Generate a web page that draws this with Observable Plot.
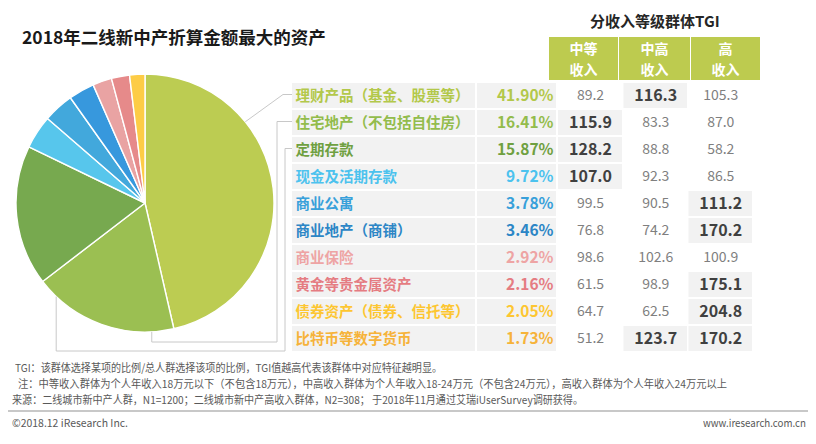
<!DOCTYPE html>
<html><head><meta charset="utf-8">
<script src="https://cdn.jsdelivr.net/npm/d3@7"></script>
<script src="https://cdn.jsdelivr.net/npm/@observablehq/plot@0.6"></script>
<style>
body{margin:0;background:#fff;font-family:"Noto Sans CJK SC","Noto Sans",sans-serif;}
#wrap{position:relative;width:816px;height:444px;overflow:hidden;background:#fff;}
#wrap svg{position:absolute;left:0;top:0;}
.abs{position:absolute;white-space:nowrap;}
.fit{transform-origin:0 50%;}
.hbox{position:absolute;top:37px;height:43px;background:#BDCB4F;}
.hline{position:absolute;left:0;right:0;color:#fff;font-weight:bold;font-size:14px;line-height:16px;text-align:center;}
.note{font-size:11px;color:#595959;line-height:14px;}
</style></head><body><div id="wrap"></div>
<script>
// ---------- data ----------
const categories = ["理财产品（基金、股票等）","住宅地产（不包括自住房）","定期存款","现金及活期存款","商业公寓","商业地产（商铺）","商业保险","黄金等贵金属资产","债券资产（债券、信托等）","比特币等数字货币"];
const shares = [41.90,16.41,15.87,9.72,3.78,3.46,2.92,2.16,2.05,1.73];
const groups = ["中等收入","中高收入","高收入"];
const groupLabels = [["中等","收入"],["中高","收入"],["高","收入"]];
const tgiMiddle = [89.2,115.9,128.2,107.0,99.5,76.8,98.6,61.5,64.7,51.2];
const tgiUpperMiddle = [116.3,83.3,88.8,92.3,90.5,74.2,102.6,98.9,62.5,123.7];
const tgiHigh = [105.3,87.0,58.2,86.5,111.2,170.2,100.9,175.1,204.8,170.2];
// pie as drawn in the picture (9 slices)
const pieValues = [41.90,16.41,15.87,3.78,3.46,2.92,2.16,2.05,1.73];

// ---------- styles / layout ----------
const labelColors = ["#B3C84A","#93BC4C","#6FA040","#4CC2EE","#38A0DA","#2C86C6","#EEA4A4","#E57C82","#FDC631","#F6B33A"];
const pieColors = ["#BCCC52","#9BBF52","#77A94F","#57C6EC","#42A8DC","#3798DD","#E9A3A3","#E68A8A","#FDCC46"];
const COL = {name:[292,475], share:[477,556], "中等收入":[558,622], "中高收入":[623.5,687], "高收入":[688.5,752]};
const PIE = {cx:145, cy:203, r:129};
const leaders = [
  {row:0, angle:51, route:(p,y)=>[p,[283,y],[292,y]]},
  {row:1, angle:177, route:(p,y)=>[p,[p[0],342],[277,342],[277,y],[292,y]]},
  {row:2, angle:223.5, route:(p,y)=>[p,[p[0],351],[285,351],[285,y],[292,y]]}
];

const rows = categories.map((name,i)=>({name, share:shares[i], color:labelColors[i]}));
const tgiSeries = [tgiMiddle, tgiUpperMiddle, tgiHigh];
const tgiRows = categories.flatMap((name,i)=>groups.map((group,j)=>({name, group, value:tgiSeries[j][i]})));
const isHi = d => d.value > 106;
const mid = g => (COL[g][0]+COL[g][1])/2;

function pieMark(index, scales) {
  const g = d3.create("svg:g");
  const arcs = d3.pie().sort(null)(pieValues);
  const arc = d3.arc().innerRadius(0).outerRadius(PIE.r);
  g.append("g").attr("transform",`translate(${PIE.cx},${PIE.cy})`)
    .selectAll("path").data(arcs).join("path")
    .attr("d", arc).attr("fill",(d,i)=>pieColors[i])
    .attr("stroke","#fff").attr("stroke-width",1.4).attr("stroke-linejoin","round");
  const y = scales.y, bw = y.bandwidth ? y.bandwidth() : 0;
  for (const L of leaders) {
    const a = L.angle*Math.PI/180;
    const p = [PIE.cx + PIE.r*Math.sin(a), PIE.cy - PIE.r*Math.cos(a)];
    const ry = y(categories[L.row]) + bw/2 - 1;
    g.append("path").attr("d", d3.line()(L.route(p, ry)))
      .attr("fill","none").attr("stroke","#C8C8C8").attr("stroke-width",1);
  }
  return g.node();
}

const plot = Plot.plot({
  width:816, height:444, margin:0,
  style:{fontFamily:'"Noto Sans CJK SC","Noto Sans",sans-serif', background:"transparent", overflow:"visible"},
  x:{domain:[0,816], range:[0,816], axis:null},
  y:{type:"band", domain:categories, range:[82,351], paddingInner:0.08, paddingOuter:0, axis:null},
  color:{type:"identity"},
  marks:[
    Plot.barX(rows, {x1:COL.name[0], x2:COL.name[1], y:"name", fill:"#F2F2F2"}),
    Plot.barX(rows, {x1:COL.share[0], x2:COL.share[1], y:"name", fill:"#F2F2F2"}),
    Plot.barX(tgiRows.filter(isHi), {x1:d=>COL[d.group][0], x2:d=>COL[d.group][1], y:"name", fill:"#F2F2F2"}),
    pieMark,
    Plot.text(rows, {x:295, y:"name", text:"name", textAnchor:"start", fill:"color", fontSize:14.5, fontWeight:"bold"}),
    Plot.text(rows, {x:553, y:"name", text:d=>d.share.toFixed(2)+"%", textAnchor:"end", fill:"color", fontSize:15.5, fontWeight:"bold"}),
    Plot.text(tgiRows.filter(isHi), {x:d=>mid(d.group), y:"name", text:d=>d.value.toFixed(1), fill:"#404040", fontSize:16, fontWeight:"bold"}),
    Plot.text(tgiRows.filter(d=>!isHi(d)), {x:d=>mid(d.group), y:"name", text:d=>d.value.toFixed(1), fill:"#7F7F7F", fontSize:14})
  ]
});
const wrap = document.getElementById("wrap");
wrap.appendChild(plot);

function addDiv(html, css, cls="abs", parent=wrap) {
  const d = document.createElement("div");
  d.className = cls; d.innerHTML = html; d.style.cssText = css;
  parent.appendChild(d); return d;
}
addDiv("2018年二线新中产折算金额最大的资产","left:22px;top:27px;font-size:17.5px;font-weight:bold;color:#1a1a1a;line-height:20px;");
addDiv("分收入等级群体TGI","left:590px;top:11px;font-size:15px;font-weight:bold;color:#262626;line-height:20px;");
const headerBoxes = [[549,618],[619,690],[691,760]];
headerBoxes.forEach((b,i)=>{
  const box = addDiv("", `left:${b[0]}px;width:${b[1]-b[0]}px;`, "hbox");
  addDiv(groupLabels[i][0], "top:3px;", "hline", box);
  addDiv(groupLabels[i][1], "top:24px;", "hline", box);
});

const notes = [
  ["TGI：该群体选择某项的比例/总人群选择该项的比例，TGI值越高代表该群体中对应特征越明显。",15,360,427],
  ["注：中等收入群体为个人年收入18万元以下（不包含18万元），中高收入群体为个人年收入18-24万元（不包含24万元），高收入群体为个人年收入24万元以上",18,376,709],
  ["来源：二线城市新中产人群，N1=1200；二线城市新中产高收入群体，N2=308； 于2018年11月通过艾瑞iUserSurvey调研获得。",12,392,571],
  ["©2018.12 iResearch Inc.",12,415,116],
  ["www.iresearch.com.cn",703,415,103]
];
const fits = notes.map(([t,x,y,w])=>{
  const d = addDiv(t, `left:${x}px;top:${y}px;`, "abs note fit");
  return [d,w];
});
addDiv("", "left:8px;top:410px;width:800px;height:2px;background:#C8C8C8;");
function applyFit(){
  for (const [d,w] of fits) {
    d.style.transform = "none";
    const nw = d.getBoundingClientRect().width;
    if (nw>0) d.style.transform = `scaleX(${w/nw})`;
  }
}
applyFit();
if (document.fonts && document.fonts.ready) document.fonts.ready.then(applyFit);
</script></body></html>
